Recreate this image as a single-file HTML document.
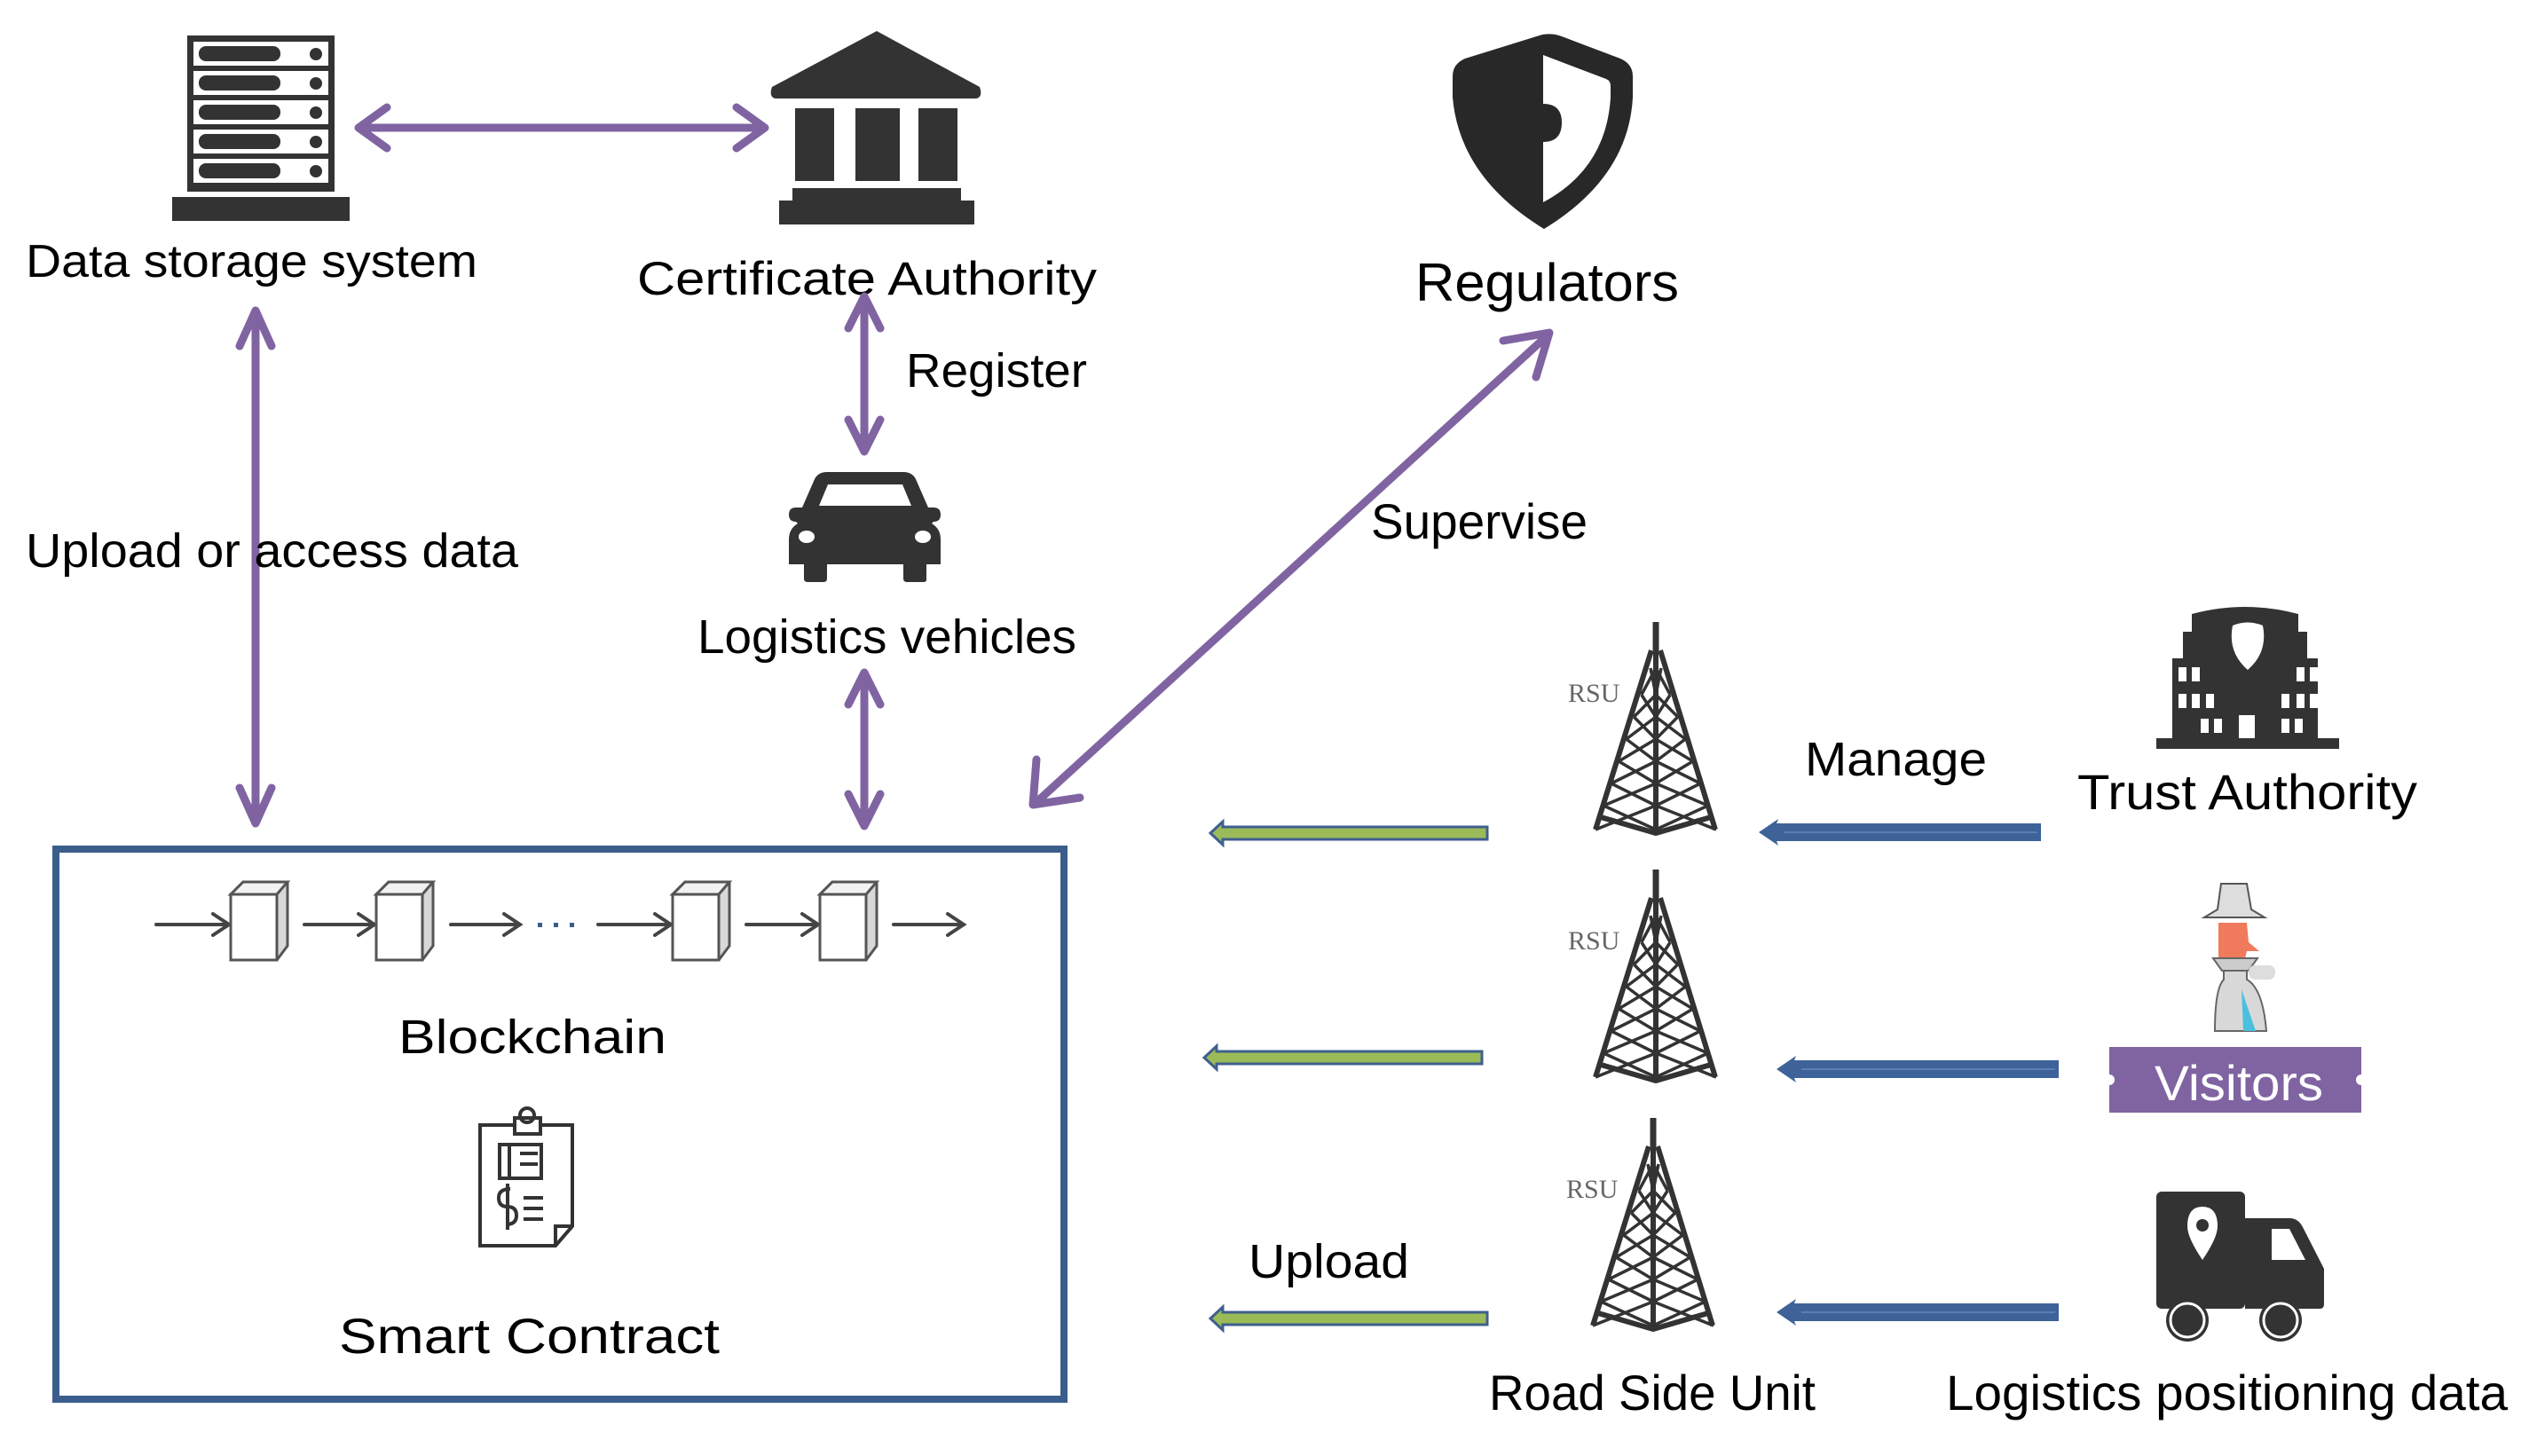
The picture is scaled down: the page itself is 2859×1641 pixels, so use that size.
<!DOCTYPE html>
<html><head><meta charset="utf-8"><style>
html,body{margin:0;padding:0;background:#fff;}
svg{display:block;}
text{font-family:"Liberation Sans",sans-serif;fill:#000;}
</style></head><body>
<svg width="2859" height="1641" viewBox="0 0 2859 1641" xmlns="http://www.w3.org/2000/svg">
<defs>
<g id="tower">
  <path d="M0 -2V30" stroke="#333" stroke-width="7"/>
  <path d="M-5 30L-68 232M5 30L67 232M0 30V236M-62 218L0 236L62 218" stroke="#333" stroke-width="6" fill="none"/>
  <g stroke="#333" stroke-width="3.5" fill="none">
   <path d="M-6 50L0 80M0 50L-16.2 80M-16.2 80L0 105M0 80L-24.7 105M-24.7 105L0 130M0 105L-33.3 130M-33.3 130L0 155M0 130L-41.8 155M-41.8 155L0 180M0 155L-50.3 180M-50.3 180L0 205M0 180L-58.8 205M-58.8 205L0 232M0 205L-68 232"/>
   <path transform="scale(-1,1)" d="M-6 50L0 80M0 50L-16.2 80M-16.2 80L0 105M0 80L-24.7 105M-24.7 105L0 130M0 105L-33.3 130M-33.3 130L0 155M0 130L-41.8 155M-41.8 155L0 180M0 155L-50.3 180M-50.3 180L0 205M0 180L-58.8 205M-58.8 205L0 232M0 205L-68 232"/>
  </g>
</g>
<g id="cube">
  <path d="M0 14L14 0H64L64 72L52 88H0Z" fill="#d8d8d8" stroke="#555" stroke-width="3"/>
  <rect x="0" y="14" width="52" height="74" fill="#fff" stroke="#555" stroke-width="3"/>
  <path d="M0 14L14 0H64L52 14Z" fill="#f2f2f2" stroke="#555" stroke-width="3"/>
</g>
</defs>

<!-- Server -->
<rect x="211" y="40" width="166" height="176" fill="#333"/>
<g fill="#fff">
<rect x="218" y="47" width="152" height="27"/><rect x="218" y="80" width="152" height="27"/><rect x="218" y="113" width="152" height="27"/><rect x="218" y="146" width="152" height="27"/><rect x="218" y="179" width="152" height="27"/>
</g>
<g fill="#333">
<rect x="224" y="52" width="92" height="17" rx="8"/><circle cx="356" cy="61" r="7"/>
<rect x="224" y="85" width="92" height="17" rx="8"/><circle cx="356" cy="94" r="7"/>
<rect x="224" y="118" width="92" height="17" rx="8"/><circle cx="356" cy="127" r="7"/>
<rect x="224" y="151" width="92" height="17" rx="8"/><circle cx="356" cy="160" r="7"/>
<rect x="224" y="184" width="92" height="17" rx="8"/><circle cx="356" cy="193" r="7"/>
<rect x="194" y="222" width="200" height="27"/>
</g>
<text x="29" y="312" font-size="52" textLength="509" lengthAdjust="spacingAndGlyphs">Data storage system</text>

<!-- Bank -->
<g fill="#333">
<path d="M988 35L1104 98Q1108 110 1100 111H874Q866 110 870 98Z"/>
<rect x="896" y="122" width="44" height="82"/><rect x="964" y="122" width="50" height="82"/><rect x="1035" y="122" width="44" height="82"/>
<rect x="893" y="212" width="190" height="14"/><rect x="878" y="226" width="220" height="27"/>
</g>
<text x="718" y="332" font-size="53" textLength="518" lengthAdjust="spacingAndGlyphs">Certificate Authority</text>

<!-- purple arrows -->
<g stroke="#8064a2" stroke-width="9" stroke-linecap="round" stroke-linejoin="round" fill="none">
<path d="M404 144H862M436 121L404 144L436 167M830 121L862 144L830 167"/>
<path d="M974 334V509M956 370L974 334L992 370M956 473L974 509L992 473"/>
<path d="M974 758V931M956 794L974 758L992 794M956 895L974 931L992 895"/>
<path d="M288 350V928M270 390L288 350L306 390M270 888L288 928L306 888"/>
<path d="M1166 906L1745 377M1694 384L1746 375L1731 425M1168 856L1164 907L1217 899"/>
</g>
<text x="1021" y="436" font-size="54" textLength="204" lengthAdjust="spacingAndGlyphs">Register</text>
<text x="29" y="639" font-size="54" textLength="555" lengthAdjust="spacingAndGlyphs">Upload or access data</text>

<!-- Car -->
<g fill="#333">
<path d="M918 540Q922 532 932 532H1018Q1028 532 1032 540L1046 572H1052Q1060 572 1060 580Q1060 588 1052 588L1050 590Q1060 596 1060 608V636H1044V654Q1044 656 1040 656H1022Q1018 656 1018 652V636H932V652Q932 656 928 656H910Q906 656 906 652V636H889V608Q889 596 899 590L897 588Q889 588 889 580Q889 572 897 572H904Z"/>
</g>
<path d="M923 570L933 546H1017L1027 570Z" fill="#fff"/>
<ellipse cx="909" cy="605" rx="9" ry="7" fill="#fff"/><ellipse cx="1040" cy="605" rx="9" ry="7" fill="#fff"/>
<text x="786" y="736" font-size="54" textLength="427" lengthAdjust="spacingAndGlyphs">Logistics vehicles</text>

<!-- Shield -->
<path d="M1738 39Q1750 37 1760 41L1826 66Q1840 72 1840 86V110Q1835 200 1740 258Q1645 200 1637 110V86Q1637 72 1651 66Z" fill="#282828"/>
<path d="M1739 62L1810 89Q1815 91 1815 97V110Q1810 190 1739 228V160Q1760 160 1760 138Q1760 117 1739 117Z" fill="#fff"/>
<text x="1595" y="339" font-size="60" textLength="297" lengthAdjust="spacingAndGlyphs">Regulators</text>
<text x="1545" y="607" font-size="56" textLength="244" lengthAdjust="spacingAndGlyphs">Supervise</text>

<!-- Blockchain box -->
<rect x="63" y="957" width="1136" height="620" fill="none" stroke="#3b5d8c" stroke-width="8"/>
<g stroke="#444" stroke-width="4" fill="none" stroke-linecap="round">
<path d="M176 1042H258M240 1030L258 1042L240 1054"/>
<path d="M343 1042H422M404 1030L422 1042L404 1054"/>
<path d="M508 1042H586M568 1030L586 1042L568 1054"/>
<path d="M674 1042H756M738 1030L756 1042L738 1054"/>
<path d="M841 1042H922M904 1030L922 1042L904 1054"/>
<path d="M1007 1042H1086M1068 1030L1086 1042L1068 1054"/>
</g>
<g fill="#3b5d8c"><rect x="606" y="1040" width="5" height="5"/><rect x="624" y="1040" width="5" height="5"/><rect x="642" y="1040" width="5" height="5"/></g>
<use href="#cube" x="260" y="994"/><use href="#cube" x="424" y="994"/><use href="#cube" x="758" y="994"/><use href="#cube" x="924" y="994"/>
<text x="449" y="1187" font-size="54" textLength="302" lengthAdjust="spacingAndGlyphs">Blockchain</text>
<!-- contract icon -->
<g stroke="#333" stroke-width="4" fill="none">
<path d="M580 1268H541V1404H626L645 1382V1268H609"/>
<path d="M626 1404V1382H645"/>
<rect x="580" y="1260" width="29" height="18" fill="#fff"/>
<circle cx="594" cy="1257" r="8"/>
<rect x="563" y="1290" width="47" height="38"/>
<path d="M574 1290V1328M586 1300H606M586 1312H606"/>
<path d="M575 1340Q562 1340 562 1350Q562 1360 572 1360Q582 1360 582 1370Q582 1380 570 1380M572 1334V1386M590 1350H612M590 1362H612M590 1374H612"/>
</g>
<text x="382" y="1525" font-size="56" textLength="429" lengthAdjust="spacingAndGlyphs">Smart Contract</text>

<!-- Towers -->
<use href="#tower" x="1866" y="703"/>
<use href="#tower" x="1866" y="982"/>
<use href="#tower" x="1863" y="1262"/>
<g font-family="Liberation Serif,serif" font-size="30"><text x="1767" y="791" style="fill:#666;font-family:'Liberation Serif',serif">RSU</text><text x="1767" y="1070" style="fill:#666;font-family:'Liberation Serif',serif">RSU</text><text x="1765" y="1350" style="fill:#666;font-family:'Liberation Serif',serif">RSU</text></g>

<!-- Green arrows -->
<g fill="#9bbb59" stroke="#3f5f8f" stroke-width="3">
<path d="M1676 932V946H1378V952L1364 939L1378 926V932Z"/>
<path d="M1670 1185V1199H1371V1205L1357 1192L1371 1179V1185Z"/>
<path d="M1676 1479V1493H1378V1499L1364 1486L1378 1473V1479Z"/>
</g>
<!-- Blue arrows -->
<g fill="#3d6399">
<path d="M2300 928V948H2002L2004 953L1982 938L2004 923L2002 928Z"/>
<path d="M2320 1195V1215H2022L2024 1220L2002 1205L2024 1190L2022 1195Z"/>
<path d="M2320 1469V1489H2022L2024 1494L2002 1479L2024 1464L2022 1469Z"/>
</g>
<g stroke="#5a7fb3" stroke-width="2"><path d="M2010 938H2296M2030 1205H2316M2030 1479H2316"/></g>
<text x="2034" y="874" font-size="54" textLength="205" lengthAdjust="spacingAndGlyphs">Manage</text>
<text x="1407" y="1440" font-size="54" textLength="181" lengthAdjust="spacingAndGlyphs">Upload</text>

<!-- Trust Authority building -->
<g fill="#333">
<path d="M2470 692Q2530 676 2590 692V712H2600V742H2612V832H2636V844H2430V832H2448V742H2460V712H2470Z"/>
</g>
<path d="M2516 705Q2533 698 2550 705Q2556 735 2533 755Q2510 735 2516 705Z" fill="#fff"/>
<g fill="#fff">
<rect x="2455" y="752" width="9" height="16"/><rect x="2470" y="752" width="9" height="16"/><rect x="2588" y="752" width="9" height="16"/><rect x="2603" y="752" width="9" height="16"/>
<rect x="2455" y="782" width="9" height="16"/><rect x="2470" y="782" width="9" height="16"/><rect x="2486" y="782" width="9" height="16"/><rect x="2571" y="782" width="9" height="16"/><rect x="2588" y="782" width="9" height="16"/><rect x="2603" y="782" width="9" height="16"/>
<rect x="2480" y="810" width="9" height="16"/><rect x="2495" y="810" width="9" height="16"/><rect x="2523" y="806" width="18" height="26"/><rect x="2571" y="810" width="9" height="16"/><rect x="2586" y="810" width="9" height="16"/>
</g>
<text x="2341" y="912" font-size="56" textLength="383" lengthAdjust="spacingAndGlyphs">Trust Authority</text>

<!-- Visitor figure -->
<path d="M2503 996H2532L2537 1025L2552 1034H2484L2499 1025Z" fill="#ddd" stroke="#555" stroke-width="2"/>
<path d="M2500 1040H2532L2534 1062L2546 1072H2532L2530 1080H2500Z" fill="#f07a5c"/>
<path d="M2494 1080H2544L2534 1094H2504Z" fill="#ccc" stroke="#666" stroke-width="2"/>
<path d="M2506 1094H2532V1104Q2550 1114 2554 1162H2496Q2496 1114 2506 1104Z" fill="#d8d8d8" stroke="#666" stroke-width="2"/>
<path d="M2526 1115L2542 1162H2528Z" fill="#4bc0de"/>
<rect x="2534" y="1088" width="30" height="16" rx="7" fill="#ddd"/>
<!-- Visitors banner -->
<rect x="2377" y="1180" width="284" height="74" fill="#8064a2"/>
<circle cx="2377" cy="1217" r="6" fill="#fff"/><circle cx="2661" cy="1217" r="6" fill="#fff"/>
<text x="2428" y="1240" font-size="56" textLength="190" lengthAdjust="spacingAndGlyphs" style="fill:#fff">Visitors</text>

<!-- Truck -->
<g fill="#333">
<rect x="2430" y="1343" width="100" height="132" rx="6"/>
<path d="M2530 1373H2580Q2590 1373 2595 1383L2619 1430V1470Q2619 1475 2614 1475H2530Z"/>
<circle cx="2465" cy="1488" r="24"/><circle cx="2570" cy="1488" r="24"/>
</g>
<circle cx="2465" cy="1488" r="19" fill="#333" stroke="#fff" stroke-width="3"/>
<circle cx="2570" cy="1488" r="19" fill="#333" stroke="#fff" stroke-width="3"/>
<path d="M2560 1385H2580L2598 1420H2560Z" fill="#fff"/>
<path d="M2482 1420Q2465 1395 2465 1382Q2465 1360 2482 1360Q2499 1360 2499 1382Q2499 1395 2482 1420Z" fill="#fff"/>
<circle cx="2482" cy="1381" r="7" fill="#333"/>

<text x="1678" y="1589" font-size="56" textLength="368" lengthAdjust="spacingAndGlyphs">Road Side Unit</text>
<text x="2193" y="1589" font-size="56" textLength="633" lengthAdjust="spacingAndGlyphs">Logistics positioning data</text>
</svg>
</body></html>
